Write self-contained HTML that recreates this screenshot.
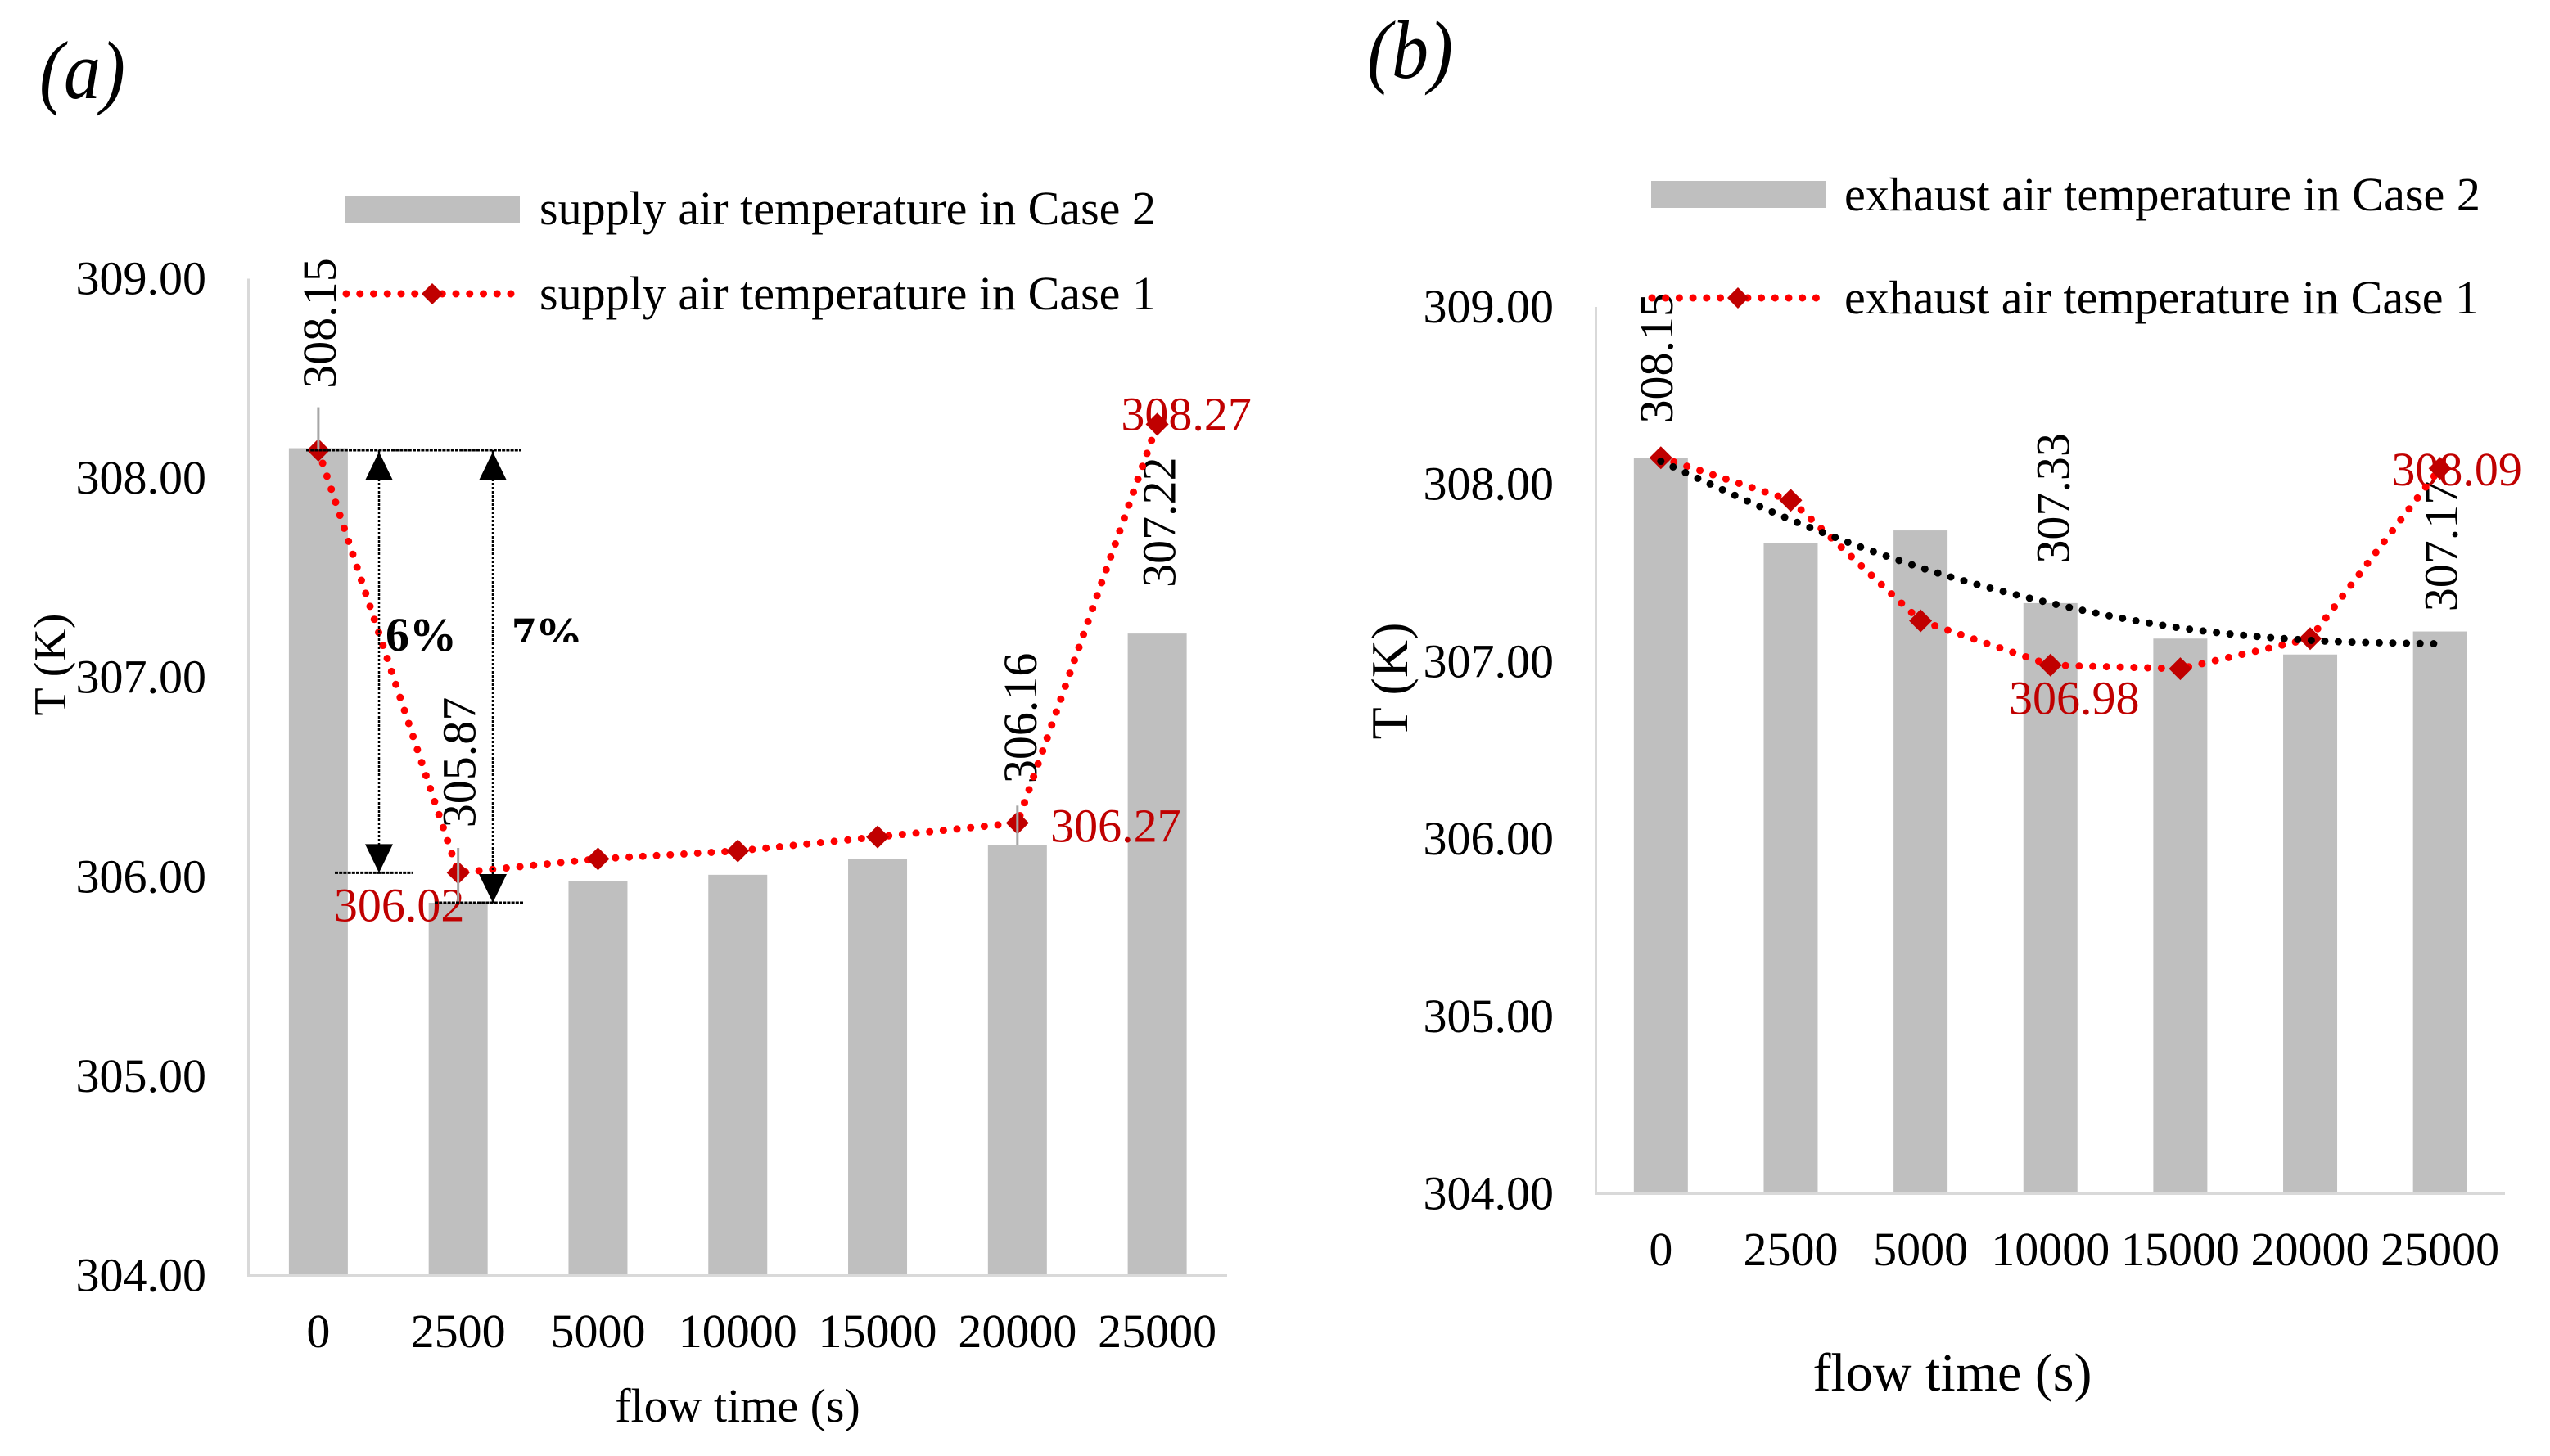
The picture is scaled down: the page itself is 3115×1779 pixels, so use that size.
<!DOCTYPE html>
<html lang="en">
<head>
<meta charset="utf-8">
<title>Supply and exhaust air temperature, Case 1 and Case 2</title>
<style>
  html, body { margin: 0; padding: 0; background: #ffffff; }
  svg { display: block; }
  text { font-family: "Liberation Serif", "Times New Roman", serif; fill: #000000; }
</style>
</head>
<body>
<svg id="figure" xmlns="http://www.w3.org/2000/svg" width="3115" height="1779" viewBox="0 0 3115 1779">
  <defs>
    <clipPath id="clip-seven"><rect x="600" y="740" width="130" height="45"></rect></clipPath>
  </defs>
  <rect x="0" y="0" width="3115" height="1779" fill="#ffffff"></rect>

  <g id="chart-a"></g>
  <g id="chart-b"></g>

  <text transform="translate(48,120) scale(1,1.12)" font-size="90" font-style="italic">(a)</text>
  <text transform="translate(1670,95) scale(1,1.12)" font-size="90" font-style="italic">(b)</text>

  <text transform="translate(80,812) rotate(-90)" font-size="56" text-anchor="middle">T (K)</text>
  <text transform="translate(1719,832) rotate(-90)" font-size="64" text-anchor="middle">T (K)</text>
  <text x="901" y="1737" font-size="58" text-anchor="middle">flow time (s)</text>
  <text x="2385" y="1699" font-size="66" text-anchor="middle">flow time (s)</text>

  <g>
    <rect x="422" y="240" width="213" height="32" fill="#bfbfbf"></rect>
    <text x="659" y="274" font-size="58" textLength="753" lengthAdjust="spacingAndGlyphs">supply air temperature in Case 2</text>
    <line x1="423" y1="359" x2="625" y2="359" stroke="#ff0000" stroke-width="9" stroke-linecap="round" stroke-dasharray="0 16.75"></line>
    <polygon points="528,346 541,359 528,372 515,359" fill="#c00000"></polygon>
    <text x="659" y="378" font-size="58" textLength="753" lengthAdjust="spacingAndGlyphs">supply air temperature in Case 1</text>
  </g>

  <g>
    <rect x="2017" y="221" width="213" height="33" fill="#bfbfbf"></rect>
    <text x="2253" y="257" font-size="58" textLength="777" lengthAdjust="spacingAndGlyphs">exhaust air temperature in Case 2</text>
    <line x1="2018" y1="364" x2="2219" y2="364" stroke="#ff0000" stroke-width="9" stroke-linecap="round" stroke-dasharray="0 16.7"></line>
    <polygon points="2123,351 2136,364 2123,377 2110,364" fill="#c00000"></polygon>
    <text x="2253" y="383" font-size="58" textLength="775" lengthAdjust="spacingAndGlyphs">exhaust air temperature in Case 1</text>
  </g>

  <text x="471" y="795" font-size="58" font-weight="bold">6%</text>
  <text x="625" y="794" font-size="58" font-weight="bold" clip-path="url(#clip-seven)">7%</text>
</svg>

<script>
const categories = ['0', '2500', '5000', '10000', '15000', '20000', '25000'];
const yTicks = [304, 305, 306, 307, 308, 309];

const supplyCase2 = [308.15, 305.87, 305.98, 306.01, 306.09, 306.16, 307.22];
const supplyCase1 = [308.14, 306.02, 306.09, 306.13, 306.20, 306.27, 308.27];

const exhaustCase2 = [308.15, 307.67, 307.74, 307.33, 307.13, 307.04, 307.17];
const exhaustCase1 = [308.15, 307.91, 307.23, 306.98, 306.96, 307.13, 308.09];
const exhaustTrend = [308.13, 307.80, 307.53, 307.33, 307.19, 307.12, 307.10];

const NS = 'http://www.w3.org/2000/svg';

function make(parent, tag, attrs) {
  const el = document.createElementNS(NS, tag);
  for (const k in attrs) el.setAttribute(k, attrs[k]);
  parent.appendChild(el);
  return el;
}

function smoothPath(pts) {
  let d = 'M' + pts[0][0] + ',' + pts[0][1];
  for (let i = 0; i < pts.length - 1; i++) {
    const p0 = pts[Math.max(i - 1, 0)];
    const p1 = pts[i];
    const p2 = pts[i + 1];
    const p3 = pts[Math.min(i + 2, pts.length - 1)];
    d += ' C' + (p1[0] + (p2[0] - p0[0]) / 6) + ',' + (p1[1] + (p2[1] - p0[1]) / 6) +
         ' ' + (p2[0] - (p3[0] - p1[0]) / 6) + ',' + (p2[1] - (p3[1] - p1[1]) / 6) +
         ' ' + p2[0] + ',' + p2[1];
  }
  return d;
}

function drawChart(cfg) {
  const root = document.getElementById(cfg.rootId);
  const band = (cfg.plotRight - cfg.plotLeft) / categories.length;
  const xScale = function (i) { return cfg.plotLeft + band * (i + 0.5); };
  const yScale = function (v) { return cfg.plotBottom - (v - 304) * cfg.unit; };

  cfg.bars.forEach(function (v, i) {
    const bar = make(root, 'rect', {
      x: xScale(i) - cfg.barWidth / 2, y: yScale(v),
      width: cfg.barWidth, height: cfg.plotBottom - yScale(v), fill: '#bfbfbf'
    });
    
    
  });

  const vAxis = make(root, 'line', {
    x1: cfg.plotLeft, y1: yScale(309), x2: cfg.plotLeft, y2: cfg.plotBottom + 1.5,
    stroke: '#d9d9d9', 'stroke-width': 3
  });
  
  

  const hAxis = make(root, 'line', {
    x1: cfg.plotLeft - 1.5, y1: cfg.plotBottom, x2: cfg.plotRight, y2: cfg.plotBottom,
    stroke: '#d9d9d9', 'stroke-width': 3
  });
  
  

  yTicks.forEach(function (v) {
    const tick = make(root, 'text', {
      x: cfg.yLabelRight, y: yScale(v) + 19, 'font-size': 58, 'text-anchor': 'end'
    });
    tick.textContent = v.toFixed(2);
    
    
  });

  categories.forEach(function (c, i) {
    const tick = make(root, 'text', {
      x: xScale(i), y: cfg.xLabelBaseline, 'font-size': 58, 'text-anchor': 'middle'
    });
    tick.textContent = c;
    
    
  });

  cfg.barLabelPlacement.forEach(function (p) {
    const v = cfg.bars[p.i];
    const lx = xScale(p.i) + p.dx;
    const ly = yScale(v) + p.dy;
    const label = make(root, 'text', {
      transform: 'translate(' + lx + ',' + ly + ') rotate(-90)',
      'font-size': 58, 'text-anchor': 'middle'
    });
    label.textContent = v.toFixed(2);
    
    
  });

  cfg.lineLabelPlacement.forEach(function (p) {
    const v = cfg.line[p.i];
    const label = make(root, 'text', {
      x: xScale(p.i) + p.dx, y: yScale(v) + p.dy,
      'font-size': 58, 'text-anchor': 'middle', style: 'fill:#c00000'
    });
    label.textContent = v.toFixed(2);
    
    
  });

  const points = cfg.line.map(function (v, i) { return xScale(i) + ',' + yScale(v); }).join(' ');
  const series = make(root, 'polyline', {
    points: points, fill: 'none', stroke: '#ff0000', 'stroke-width': 9,
    'stroke-linecap': 'round', 'stroke-dasharray': '0 16.75'
  });
  
  

  cfg.line.forEach(function (v, i) {
    const cx = xScale(i);
    const cy = yScale(v);
    const h = 14;
    const marker = make(root, 'polygon', {
      points: cx + ',' + (cy - h) + ' ' + (cx + h) + ',' + cy + ' ' + cx + ',' + (cy + h) + ' ' + (cx - h) + ',' + cy,
      fill: '#c00000'
    });
    
    
  });

  if (cfg.trend) {
    const trendPts = cfg.trend.map(function (v, i) { return [xScale(i), yScale(v)]; });
    const trend = make(root, 'path', {
      d: smoothPath(trendPts), fill: 'none', stroke: '#000000', 'stroke-width': 9,
      'stroke-linecap': 'round', 'stroke-dasharray': '0 16.6'
    });
    
    
  }

  (cfg.leaders || []).forEach(function (p) {
    const leader = make(root, 'line', {
      x1: xScale(p.i), x2: xScale(p.i),
      y1: yScale(cfg.bars[p.i]) + p.top, y2: yScale(cfg.bars[p.i]) + p.bottom,
      stroke: '#a6a6a6', 'stroke-width': 3
    });
    
    
  });

  if (cfg.annotate) cfg.annotate(root, yScale);
}

function drawDropAnnotations(root, yScale) {
  const topY = yScale(supplyCase1[0]);
  const lowLineY = yScale(supplyCase1[1]);
  const lowBarY = yScale(supplyCase2[1]);

  function hLine(name, x1, x2, y) {
    const el = make(root, 'line', {
      x1: x1, x2: x2, y1: y, y2: y, stroke: '#000000',
      'stroke-width': 3, 'stroke-dasharray': '4 1.2'
    });
    
    
  }

  function arrow(name, x, y1, y2) {
    const shaft = make(root, 'line', {
      x1: x, x2: x, y1: y1, y2: y2, stroke: '#000000',
      'stroke-width': 2.5, 'stroke-dasharray': '3 2'
    });
    
    
    const up = make(root, 'polygon', {
      points: x + ',' + (y1 + 2) + ' ' + (x + 17) + ',' + (y1 + 37) + ' ' + (x - 17) + ',' + (y1 + 37),
      fill: '#000000'
    });
    
    
    const down = make(root, 'polygon', {
      points: x + ',' + y2 + ' ' + (x + 17) + ',' + (y2 - 35) + ' ' + (x - 17) + ',' + (y2 - 35),
      fill: '#000000'
    });
    
    
  }

  hLine('reference-line-initial', 374, 636, topY);
  hLine('reference-line-case-1-low', 409, 504, lowLineY);
  hLine('reference-line-case-2-low', 531, 639, lowBarY);
  arrow('arrow-6-percent', 463, topY, lowLineY);
  arrow('arrow-7-percent', 602, topY, lowBarY);
}

drawChart({
  rootId: 'chart-a',
  bars: supplyCase2,
  line: supplyCase1,
  plotLeft: 303.5,
  plotRight: 1499,
  plotBottom: 1558.5,
  unit: 243.6,
  barWidth: 72,
  yLabelRight: 252,
  xLabelBaseline: 1646,
  barLabelPlacement: [
    { i: 0, dx: 21, dy: -152.5 },
    { i: 1, dx: 21, dy: -171.5 },
    { i: 5, dx: 23, dy: -155 },
    { i: 6, dx: 22, dy: -136 }
  ],
  lineLabelPlacement: [
    { i: 1, dx: -72, dy: 59 },
    { i: 5, dx: 120, dy: 23 },
    { i: 6, dx: 35.5, dy: 7 }
  ],
  leaders: [
    { i: 0, top: -50, bottom: 2 },
    { i: 1, top: -67, bottom: 0 },
    { i: 5, top: -48, bottom: 0 }
  ],
  annotate: drawDropAnnotations
});

drawChart({
  rootId: 'chart-b',
  bars: exhaustCase2,
  line: exhaustCase1,
  trend: exhaustTrend,
  plotLeft: 1949.5,
  plotRight: 3060,
  plotBottom: 1458.5,
  unit: 216.7,
  barWidth: 66,
  yLabelRight: 1898,
  xLabelBaseline: 1546,
  barLabelPlacement: [
    { i: 0, dx: 14, dy: -121.5 },
    { i: 3, dx: 22.5, dy: -128 },
    { i: 6, dx: 21, dy: -104 }
  ],
  lineLabelPlacement: [
    { i: 3, dx: 29, dy: 60 },
    { i: 6, dx: 20.5, dy: 21 }
  ]
});
</script>
</body>
</html>
